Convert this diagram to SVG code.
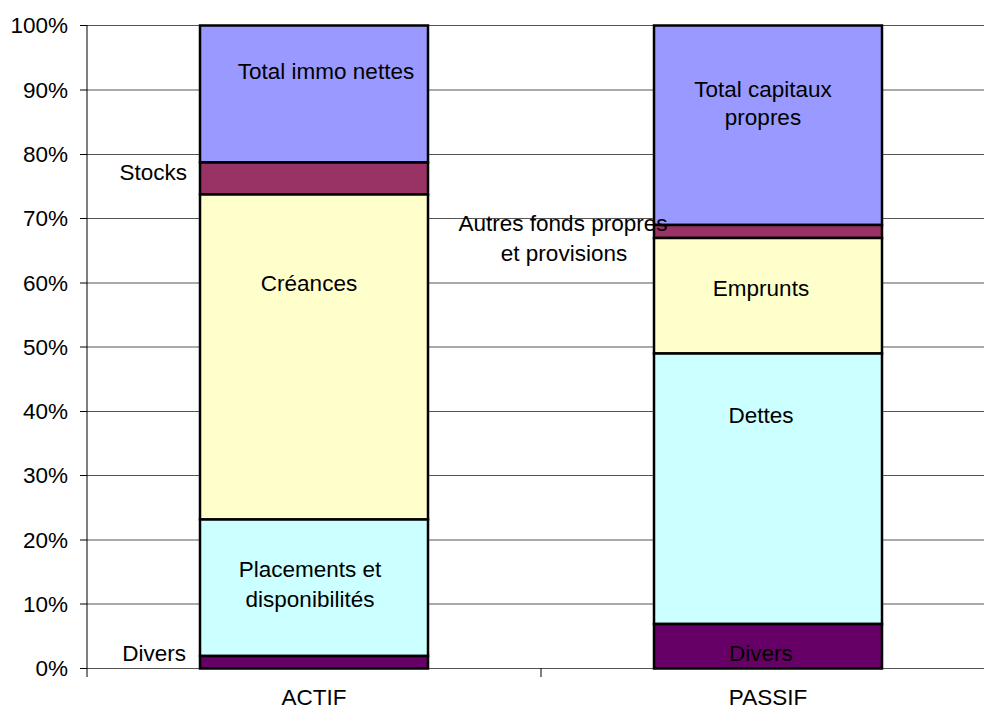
<svg xmlns="http://www.w3.org/2000/svg" width="984" height="711" viewBox="0 0 984 711">
<style>
text{font-family:"Liberation Sans",Arial,sans-serif;font-size:22.5px;fill:#000}
.grid{stroke:#555;stroke-width:1}
.ax{stroke:#000;stroke-width:1}
.seg{stroke:#000;stroke-width:2.5}
.m{text-anchor:middle}
.e{text-anchor:end}
</style>
<rect width="984" height="711" fill="#fff"/>
<g id="grid">
<line class="grid" x1="87" y1="25.5" x2="984" y2="25.5" stroke="#888" stroke-width="2"/>
<line class="grid" x1="87" y1="90" x2="984" y2="90"/>
<line class="grid" x1="87" y1="154.5" x2="984" y2="154.5"/>
<line class="grid" x1="87" y1="218.5" x2="984" y2="218.5"/>
<line class="grid" x1="87" y1="283" x2="984" y2="283"/>
<line class="grid" x1="87" y1="347" x2="984" y2="347"/>
<line class="grid" x1="87" y1="411.5" x2="984" y2="411.5"/>
<line class="grid" x1="87" y1="475.5" x2="984" y2="475.5"/>
<line class="grid" x1="87" y1="540" x2="984" y2="540"/>
<line class="grid" x1="87" y1="604" x2="984" y2="604"/>
<line class="grid" x1="87" y1="668.5" x2="984" y2="668.5"/>
</g>
<g id="axes">
<line class="ax" x1="87" y1="25" x2="87" y2="677"/>
<g class="ax">
<line x1="80" y1="25.5" x2="87" y2="25.5"/><line x1="80" y1="90" x2="87" y2="90"/><line x1="80" y1="154.5" x2="87" y2="154.5"/><line x1="80" y1="218.5" x2="87" y2="218.5"/><line x1="80" y1="283" x2="87" y2="283"/><line x1="80" y1="347" x2="87" y2="347"/><line x1="80" y1="411.5" x2="87" y2="411.5"/><line x1="80" y1="475.5" x2="87" y2="475.5"/><line x1="80" y1="540" x2="87" y2="540"/><line x1="80" y1="604" x2="87" y2="604"/><line x1="80" y1="668.5" x2="87" y2="668.5"/>
<line x1="541" y1="668" x2="541" y2="677"/>
</g>
<text class="e" x="68" y="33">100%</text>
<text class="e" x="68" y="97.5">90%</text>
<text class="e" x="68" y="162">80%</text>
<text class="e" x="68" y="226">70%</text>
<text class="e" x="68" y="290.5">60%</text>
<text class="e" x="68" y="354.5">50%</text>
<text class="e" x="68" y="419">40%</text>
<text class="e" x="68" y="483">30%</text>
<text class="e" x="68" y="547.5">20%</text>
<text class="e" x="68" y="611.5">10%</text>
<text class="e" x="68" y="676">0%</text>
<text class="m" x="314" y="705">ACTIF</text>
<text class="m" x="768" y="705">PASSIF</text>
</g>
<g id="actif">
<rect class="seg" x="200" y="25.5" width="228" height="137" fill="#9999FF"/>
<rect class="seg" x="200" y="162.5" width="228" height="32" fill="#993366"/>
<rect class="seg" x="200" y="194.5" width="228" height="325" fill="#FFFFCC"/>
<rect class="seg" x="200" y="519.5" width="228" height="136.5" fill="#CCFFFF"/>
<rect class="seg" x="200" y="656" width="228" height="12.5" fill="#660066"/>
<text class="m" x="326" y="79">Total immo nettes</text>
<text class="m" x="309" y="291">Créances</text>
<text class="m" x="310" y="577">Placements et</text>
<text class="m" x="310" y="607">disponibilités</text>
<text class="e" x="187" y="180">Stocks</text>
<text class="e" x="186" y="661">Divers</text>
</g>
<g id="passif">
<rect class="seg" x="654" y="25.5" width="228" height="199.5" fill="#9999FF"/>
<rect class="seg" x="654" y="225" width="228" height="13" fill="#993366"/>
<rect class="seg" x="654" y="238" width="228" height="115.5" fill="#FFFFCC"/>
<rect class="seg" x="654" y="353.5" width="228" height="270.5" fill="#CCFFFF"/>
<rect class="seg" x="654" y="624" width="228" height="44.5" fill="#660066"/>
<text class="m" x="763" y="97">Total capitaux</text>
<text class="m" x="763" y="125">propres</text>
<text class="m" x="761" y="296">Emprunts</text>
<text class="m" x="761" y="423">Dettes</text>
<text class="m" x="761" y="661">Divers</text>
<text class="m" x="563" y="231">Autres fonds propres</text>
<text class="m" x="564" y="261">et provisions</text>
</g>
</svg>
